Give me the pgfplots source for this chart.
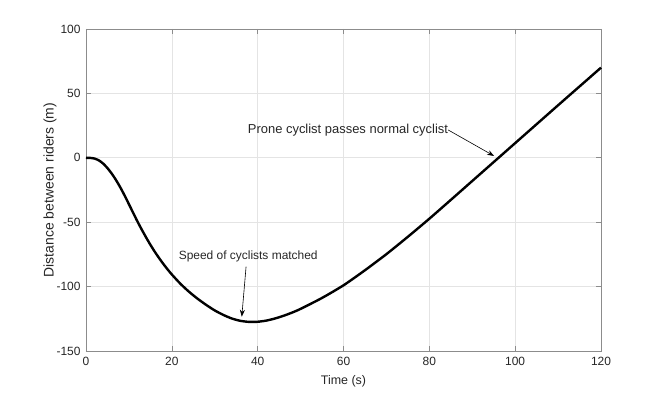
\documentclass[border=0pt]{standalone}
\usepackage{fontspec}
\setmainfont{Liberation Sans}
\usepackage{pgfplots}
\pgfplotsset{compat=1.18}
\usetikzlibrary{arrows.meta}
\definecolor{gridc}{RGB}{228,228,228}
\definecolor{axc}{RGB}{140,140,140}
\definecolor{txt}{RGB}{38,38,38}
\begin{document}
\begin{tikzpicture}
\begin{axis}[
  scale only axis,
  width=515bp, height=322bp,
  xmin=0, xmax=120, ymin=-150, ymax=100,
  xtick={0,20,40,60,80,100,120},
  xticklabels={0,20,40,60,80,100,120},
  ytick={-150,-100,-50,0,50,100},
  yticklabels={-150,-100,-50,0,50,100},
  tick align=inside,
  major tick length=5bp,
  grid=major,
  major grid style={draw=gridc, line width=0.6bp},
  axis line style={draw=axc, line width=0.8bp},
  every tick/.style={draw=axc, line width=0.6bp},
  tick label style={font=\fontsize{12}{14}\selectfont, text=txt},
  xticklabel style={yshift=-2.5bp},
  yticklabel style={xshift=-2bp},
  xlabel={Time (s)},
  ylabel={Distance between riders (m)},
  xlabel style={font=\fontsize{12.5}{14}\selectfont, text=txt, at={(axis description cs:0.5,-0.0932)}, anchor=center},
  ylabel style={font=\fontsize{14}{16}\selectfont, text=txt, at={(axis description cs:-0.0699,0.5)}, anchor=center},
  clip=false,
]
\addplot[black, line width=2.4bp, smooth, tension=0.4] table[row sep=\\] {
t d\\
0 0\\
1 -0.1\\
2 -0.6\\
3 -2.0\\
4 -4.5\\
5 -8.0\\
6 -12.3\\
7 -17.3\\
8 -23\\
9 -29.3\\
10 -36\\
11 -42.8\\
12 -49.5\\
13 -55.8\\
14 -61.8\\
15 -67.5\\
16 -72.8\\
17 -77.7\\
18 -82.3\\
19 -86.6\\
20 -90.6\\
22 -97.8\\
24 -104\\
26 -109.4\\
28 -114.2\\
30 -118.5\\
32 -122\\
34 -124.8\\
36 -126.6\\
38 -127.4\\
40 -127.3\\
42 -126.4\\
44 -124.8\\
46 -122.7\\
48 -120.2\\
50 -117.3\\
55 -108.8\\
60 -99\\
65 -87.3\\
70 -74.8\\
75 -61.3\\
80 -47.3\\
85 -32.7\\
90 -18.0\\
95 -3.3\\
100 11.4\\
105 26.1\\
110 40.8\\
115 55.4\\
120 70\\
};
\node[font=\fontsize{12}{14}\selectfont, text=txt, anchor=center] at (axis cs:37.8,-76.8) {Speed of cyclists matched};
\draw[black, line width=0.6bp, -{Stealth[length=7bp,width=5bp]}] (axis cs:37.3,-84.5) -- (axis cs:36.3,-123.4);
\node[font=\fontsize{13}{15}\selectfont, text=txt, anchor=east, inner sep=0pt] at (axis cs:84.4,21.6) {Prone cyclist passes normal cyclist};
\draw[black, line width=0.6bp, -{Stealth[length=7bp,width=5bp]}] (axis cs:84.4,21.6) -- (axis cs:95.1,1.4);
\end{axis}
\pgfresetboundingbox
\useasboundingbox (current axis.south west) ++(-86bp,-43bp) rectangle ++(664bp,394bp);
\end{tikzpicture}
\end{document}
